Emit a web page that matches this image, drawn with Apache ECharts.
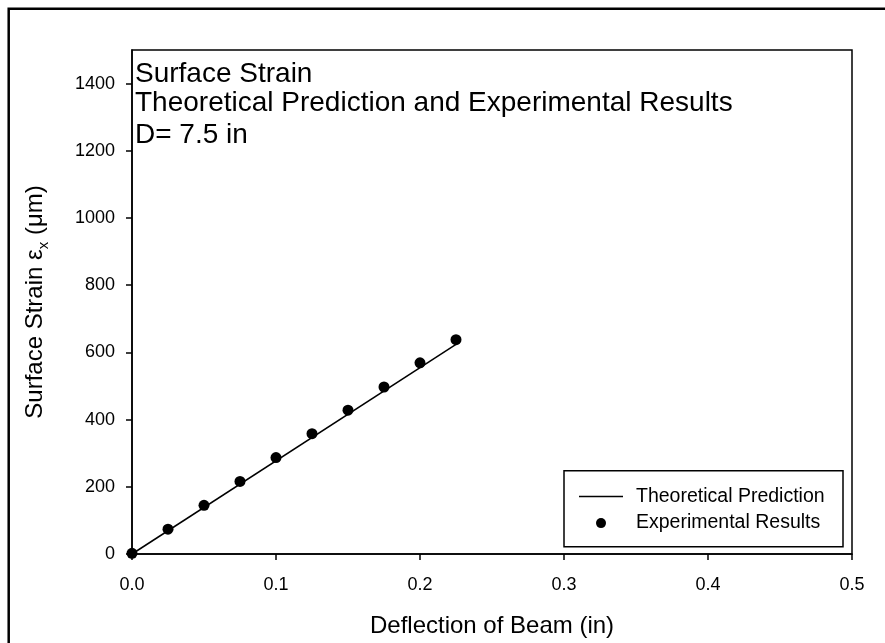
<!DOCTYPE html>
<html>
<head>
<meta charset="utf-8">
<script src="https://cdn.jsdelivr.net/npm/echarts@6/dist/echarts.min.js"></script>
<style>html,body{margin:0;padding:0;background:#fff}#c{width:885px;height:643px}</style>
</head>
<body>
<div id="c"></div>
<script>
// Data
var expX = [0, 0.025, 0.05, 0.075, 0.1, 0.125, 0.15, 0.175, 0.2, 0.225];
var expY = [2, 74, 145, 216, 287, 358, 428, 497, 569, 638];
var theoX = [0, 0.225];
var theoY = [0, 624];
var xTicks = [0, 0.1, 0.2, 0.3, 0.4, 0.5];
var yTicks = [0, 200, 400, 600, 800, 1000, 1200, 1400];
var titleLines = ['Surface Strain', 'Theoretical Prediction and Experimental Results', 'D= 7.5 in'];
var seriesNames = ['Theoretical Prediction', 'Experimental Results'];

var FONT = '"Liberation Sans", Arial, sans-serif';
var chart = echarts.init(document.getElementById('c'), null, {renderer: 'canvas'});

var expData = expX.map(function (x, i) { return [x, expY[i]]; });
var theoData = theoX.map(function (x, i) { return [x, theoY[i]]; });

var titleGraphics = titleLines.map(function (t, i) {
  return {
    type: 'text', left: 135, top: [72.5, 102, 134][i] - 12.5,
    style: {text: t, fontSize: 28, fontFamily: FONT, fill: '#000', textVerticalAlign: 'top'}
  };
});

chart.setOption({
  animation: false,
  backgroundColor: '#fff',
  grid: {left: 132, top: 50, right: 33, bottom: 89, show: true, borderColor: '#000', borderWidth: 1.5},
  xAxis: {
    type: 'value', min: 0, max: 0.5, interval: 0.1,
    name: 'Deflection of Beam (in)', nameLocation: 'middle', nameGap: 60,
    nameTextStyle: {fontSize: 24, fontFamily: FONT, color: '#000'},
    axisLine: {lineStyle: {color: '#000', width: 1.5}},
    axisTick: {show: true, length: 6, lineStyle: {color: '#000', width: 1.5}, customValues: xTicks},
    axisLabel: {fontSize: 18, fontFamily: FONT, color: '#000', margin: 22, customValues: xTicks,
      formatter: function (v) { return v.toFixed(1); }},
    splitLine: {show: false}
  },
  yAxis: {
    type: 'value', min: 0, max: 1500, interval: 100,
    name: '{a|Surface Strain ε}{s|x}{a| (μm)}', nameLocation: 'middle', nameGap: 85, nameRotate: 90,
    nameTextStyle: {fontSize: 24, fontFamily: FONT, color: '#000',
      rich: {a: {fontSize: 24, fontFamily: FONT, color: '#000'},
             s: {fontSize: 15, fontFamily: FONT, color: '#000', verticalAlign: 'bottom', padding: [0, 0, -4, 0]}}},
    axisLine: {lineStyle: {color: '#000', width: 1.5}},
    axisTick: {show: true, length: 6, lineStyle: {color: '#000', width: 1.5}, customValues: yTicks},
    axisLabel: {fontSize: 18, fontFamily: FONT, color: '#000', margin: 17, customValues: yTicks,
      formatter: function (v) { return String(v); }},
    splitLine: {show: false}
  },
  legend: {
    orient: 'vertical', left: 579, top: 486.5, padding: 0, itemWidth: 44, itemHeight: 10, itemGap: 6.6,
    textStyle: {fontSize: 19.5, fontFamily: FONT, color: '#000', padding: [0, 0, 0, 8]},
    data: [
      {name: seriesNames[0], icon: 'path://M0,0L44,0L44,1.5L0,1.5Z', itemStyle: {color: '#000'}},
      {name: seriesNames[1], icon: 'circle', itemStyle: {color: '#000', opacity: 1}}
    ],
    selectedMode: false
  },
  graphic: [
    {type: 'rect', shape: {x: 8.7, y: 8.7, width: 1000, height: 1000}, style: {fill: 'none', stroke: '#000', lineWidth: 2.5}, z: 100},
    {type: 'rect', shape: {x: 564, y: 470.7, width: 279, height: 76}, style: {fill: '#fff', stroke: '#000', lineWidth: 1.5}, z: -1, zlevel: 0}
  ].concat(titleGraphics),
  series: [
    {name: seriesNames[0], type: 'line', data: theoData, symbol: 'none',
      lineStyle: {color: '#000', width: 1.5}, itemStyle: {color: '#000'}, z: 2},
    {name: seriesNames[1], type: 'scatter', data: expData, symbol: 'circle', symbolSize: 11,
      itemStyle: {color: '#000', opacity: 1}, z: 3}
  ]
});
</script>
</body>
</html>
